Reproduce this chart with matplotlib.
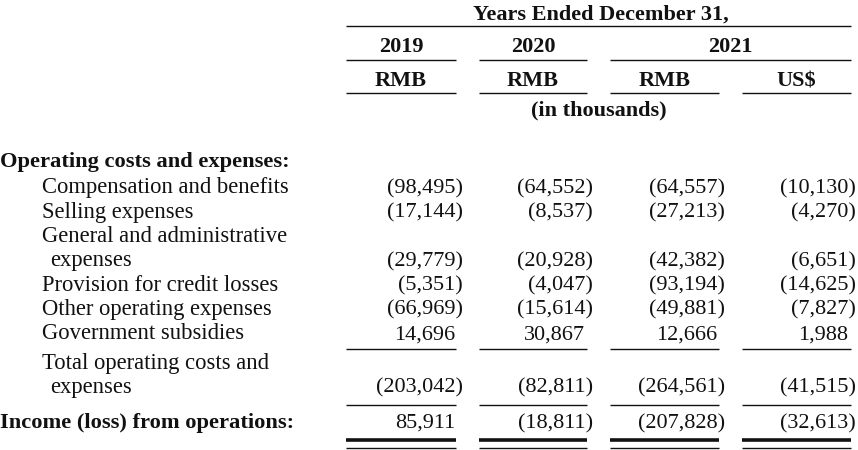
import matplotlib
matplotlib.use("Agg")
import matplotlib.pyplot as plt

# ---------------- data ----------------
title = "Years Ended December 31,"
years = ["2019", "2020", "2021"]
currencies = ["RMB", "RMB", "RMB", "US$"]
unit_note = "(in thousands)"

section_label = "Operating costs and expenses:"
item_labels = [
    ["Compensation and benefits"],
    ["Selling expenses"],
    ["General and administrative", "expenses"],
    ["Provision for credit losses"],
    ["Other operating expenses"],
    ["Government subsidies"],
]
total_label = ["Total operating costs and", "expenses"]
income_label = "Income (loss) from operations:"

rmb_2019 = [-98495, -17144, -29779, -5351, -66969, 14696]
rmb_2020 = [-64552, -8537, -20928, -4047, -15614, 30867]
rmb_2021 = [-64557, -27213, -42382, -93194, -49881, 12666]
usd_2021 = [-10130, -4270, -6651, -14625, -7827, 1988]

totals = [-203042, -82811, -264561, -41515]
income = [85911, -18811, -207828, -32613]

# ---------------- layout ----------------
W, H = 858, 450
fig = plt.figure(figsize=(W / 100, H / 100), dpi=100)
ax = fig.add_axes([0, 0, 1, 1])
ax.set_xlim(0, W)
ax.set_ylim(H, 0)
ax.axis("off")

FONT = "Liberation Serif"
FS = 16.0
FS_LABEL = 16.3
FS_BOLD = 16.2
COLOR = "#111111"

col_left = [346, 479, 610, 742]
col_right = [456, 587, 719, 851]
paren_right = [463, 593, 725, 856]
digit_right = [455, 585, 717, 848]


def txt(x, y, s, ha="left", bold=False, fs=None):
    if fs is None:
        fs = FS_BOLD if bold else FS
    ax.text(x, y, s, ha=ha, va="baseline", fontsize=fs, family=FONT,
            fontweight="bold" if bold else "normal", color=COLOR)


def hline(x0, x1, y, lw=1.0):
    ax.plot([x0, x1], [y, y], color=COLOR, lw=lw, solid_capstyle="butt")


def fmt(v):
    s = f"{abs(v):,}"
    return f"({s})" if v < 0 else s


def number(ci, y, v):
    if v < 0:
        txt(paren_right[ci], y, fmt(v), ha="right")
    else:
        txt(digit_right[ci], y, fmt(v), ha="right")


# header
mid_all = (col_left[0] + col_right[3]) / 2
txt(mid_all + 2, 19.5, title, ha="center", bold=True, fs=FS)
hline(col_left[0], col_right[3], 26)
year_spans = [(col_left[0], col_right[0]), (col_left[1], col_right[1]),
              (col_left[2], col_right[3])]
for yr, (a, b) in zip(years, year_spans):
    txt((a + b) / 2, 52.5, yr, ha="center", bold=True, fs=FS)
    hline(a, b, 60)
for ci, cur in enumerate(currencies):
    txt((col_left[ci] + col_right[ci]) / 2, 86, cur, ha="center", bold=True, fs=FS)
    hline(col_left[ci], col_right[ci], 93)
txt(mid_all, 115, unit_note, ha="center", bold=True, fs=FS)

# body
txt(0, 167.5, section_label, bold=True)
columns = [rmb_2019, rmb_2020, rmb_2021, usd_2021]
y = 193.3
step = 24.3
for ri, lab in enumerate(item_labels):
    for li, part in enumerate(lab):
        txt(42 if li == 0 else 50, y, part, fs=FS_LABEL)
        if li < len(lab) - 1:
            y += step
    for ci, col in enumerate(columns):
        number(ci, y, col[ri])
    y += step

for ci in range(4):
    hline(col_left[ci], col_right[ci], 349.3)

txt(42, 368.5, total_label[0], fs=FS_LABEL)
txt(50, 392.7, total_label[1], fs=FS_LABEL)
for ci in range(4):
    number(ci, 392.7, totals[ci])
    hline(col_left[ci], col_right[ci], 405)

txt(0, 428, income_label, bold=True)
for ci in range(4):
    number(ci, 428, income[ci])
    hline(col_left[ci], col_right[ci], 439.5, lw=2.6)
    hline(col_left[ci], col_right[ci], 447.5, lw=1.0)

fig.savefig("out.png", dpi=100)
